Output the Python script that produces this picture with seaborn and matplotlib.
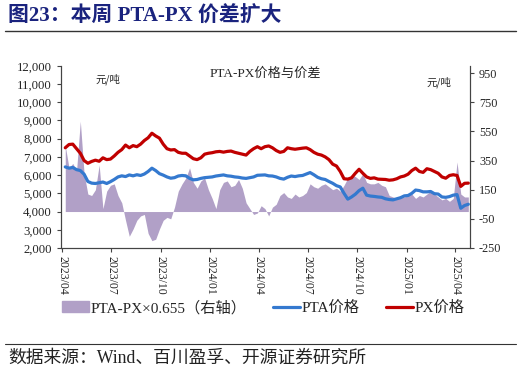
import pandas as pd
import seaborn as sns
import matplotlib.pyplot as plt
import matplotlib.dates as mdates
from matplotlib.ticker import FuncFormatter, FixedLocator
from matplotlib.lines import Line2D
from matplotlib.patches import Patch

# weekly observations, 2023-04-07 .. 2025-04-25
dates = pd.date_range('2023-04-07', periods=108, freq='7D')

pta_price = [
    6450, 6380, 6420, 6300, 6250, 6050, 5650, 5560, 5540, 5580,
    5620, 5540, 5640, 5760, 5900, 5960, 5920, 6010, 5960, 6020,
    5980, 6060, 6200, 6380, 6250, 6080, 6000, 5900, 5830, 5860,
    5950, 5980, 5960, 5820, 5740, 5760, 5820, 5860, 5880, 5900,
    5950, 5980, 6010, 5960, 5940, 5900, 5880, 5840, 5820, 5860,
    5900, 5990, 6000, 6010, 5960, 5950, 5900, 5820, 5780, 5880,
    5950, 5920, 5960, 5980, 6060, 6140, 6020, 5880, 5800, 5760,
    5650, 5550, 5420, 5350, 5000, 4680, 4800, 4950, 5150, 5280,
    4900, 4850, 4830, 4800, 4780, 4700, 4660, 4640, 4700, 4760,
    4860, 4880, 5000, 5180, 5150, 5080, 5080, 5100, 4980, 4960,
    4800, 4780, 4820, 4900, 4930, 4180, 4330, 4400,
]

px_price = [
    7500, 7680, 7700, 7450, 7200, 6800, 6650, 6750, 6820, 6760,
    6950, 6850, 6880, 7050, 7250, 7400, 7650, 7500, 7620, 7560,
    7700, 7900, 8050, 8300, 8150, 8030, 7700, 7450, 7380, 7400,
    7250, 7200, 7200, 7050, 6900, 6850, 6950, 7150, 7200, 7230,
    7280, 7300, 7260, 7300, 7320, 7250, 7200, 7150, 7100, 7300,
    7450, 7560, 7450, 7560, 7600, 7500, 7350, 7250, 7300, 7500,
    7450, 7420, 7450, 7480, 7500, 7400, 7250, 7150, 7100, 7000,
    6850, 6600, 6500, 6200, 5800, 5780, 5850, 6100, 6320, 6100,
    5900, 5820, 5850, 5780, 5770, 5760, 5720, 5740, 5800, 5900,
    5950, 6050, 6250, 6380, 6200, 6150, 6350, 6300, 6200, 6100,
    5900, 5830, 5980, 6020, 5980, 5380, 5550, 5560,
]

spread = [
    450, 300, 330, 280, 620, 260, 120, 110, 150, 320,
    20, 140, 180, 190, 110, 60, -60, -170, -120, -60,
    -30, -20, -150, -200, -190, -120, -60, -40, -50, 30,
    140, 190, 230, 300, 200, 160, 210, 230, 150, 90,
    20, 150, 200, 210, 170, 180, 220, 160, 60, 20,
    -20, -10, 40, 20, -30, 30, 50, 110, 130, 100,
    90, 120, 100, 110, 130, 190, 170, 160, 180, 190,
    170, 150, 160, 140, 180, 230, 250, 240, 220, 260,
    200, 190, 190, 200, 180, 170, 110, 100, 90, 110,
    100, 110, 120, 90, 110, 100, 120, 140, 120, 100,
    80, 90, 70, 90, 340, 120, 100, 100,
]

tick_dates = pd.to_datetime(['2023-04-01', '2023-07-01', '2023-10-01', '2024-01-01',
                             '2024-04-01', '2024-07-01', '2024-10-01', '2025-01-01',
                             '2025-04-01'])

df = pd.DataFrame({'date': dates, 'PTA': pta_price, 'PX': px_price, 'spread': spread})

sns.set_style('ticks')
plt.rcParams['font.family'] = ['Liberation Serif', 'Noto Sans CJK SC', 'DejaVu Sans']
plt.rcParams['axes.unicode_minus'] = False

fig = plt.figure(figsize=(5.21, 3.74), dpi=100)
ax = fig.add_axes([0.117, 0.337, 0.785, 0.487])
ax2 = ax.twinx()

bar_color = '#B1A0C7'
blue = '#3479CF'
red = '#C00000'

ax2.fill_between(df['date'], 0, df['spread'], color=bar_color, linewidth=0)
ax2.set_ylim(-250, 1000)
ax2.yaxis.set_major_locator(FixedLocator(list(range(-250, 1000, 200))))

sns.lineplot(data=df, x='date', y='PTA', ax=ax, color=blue, linewidth=2.3)
sns.lineplot(data=df, x='date', y='PX', ax=ax, color=red, linewidth=2.3)
ax.set_zorder(ax2.get_zorder() + 1)
ax.patch.set_visible(False)

ax.set_ylim(2000, 12000)
ax.set_yticks(range(2000, 12001, 1000))
ax.yaxis.set_major_formatter(FuncFormatter(lambda v, p: f'{int(v):,}'))
ax.set_xlim(pd.Timestamp('2023-03-30'), pd.Timestamp('2025-04-28'))
ax.set_xticks(tick_dates)
ax.xaxis.set_major_formatter(mdates.DateFormatter('%Y/%m'))
ax.set_xlabel('')
ax.set_ylabel('')

for a in (ax, ax2):
    a.spines['top'].set_visible(False)
    for s in ('left', 'right', 'bottom'):
        a.spines[s].set_color('#444444')
        a.spines[s].set_linewidth(0.8)
ax.tick_params(axis='x', labelsize=8.5, rotation=-90, length=3, color='#444444', pad=3)
ax.tick_params(axis='y', labelsize=9.2, length=3, color='#444444')
ax2.tick_params(axis='y', labelsize=8.8, length=3, color='#444444')

ax.text(0.5, 0.99, 'PTA-PX价格与价差', transform=ax.transAxes, ha='center', va='top', fontsize=9.5)
ax.text(0.115, 0.96, '元/吨', transform=ax.transAxes, ha='center', va='top', fontsize=7.5,
        family=['Noto Sans CJK SC'])
ax.text(0.925, 0.94, '元/吨', transform=ax.transAxes, ha='center', va='top', fontsize=7.5,
        family=['Noto Sans CJK SC'])

handles = [Patch(color=bar_color), Line2D([], [], color=blue, lw=2.3), Line2D([], [], color=red, lw=2.3)]
labels = ['PTA-PX×0.655（右轴）', 'PTA价格', 'PX价格']
fig.legend(handles, labels, loc='center', bbox_to_anchor=(0.505, 0.177), ncol=3, frameon=False,
           fontsize=11, handlelength=1.8, handletextpad=0.1, columnspacing=1.7)

fig.text(0.015, 0.957, '图23：本周 PTA-PX 价差扩大', fontsize=15, fontweight='bold', color='#1A237E',
         ha='left', va='center')
fig.add_artist(Line2D([0.01, 0.99], [0.917, 0.917], color='#333333', lw=1.0, transform=fig.transFigure))
fig.add_artist(Line2D([0.01, 0.99], [0.08, 0.08], color='#333333', lw=0.8, transform=fig.transFigure))
fig.text(0.015, 0.043, '数据来源：Wind、百川盈孚、开源证券研究所', fontsize=12.8, color='#222222',
         ha='left', va='center')

fig.savefig('out.png', dpi=100)
